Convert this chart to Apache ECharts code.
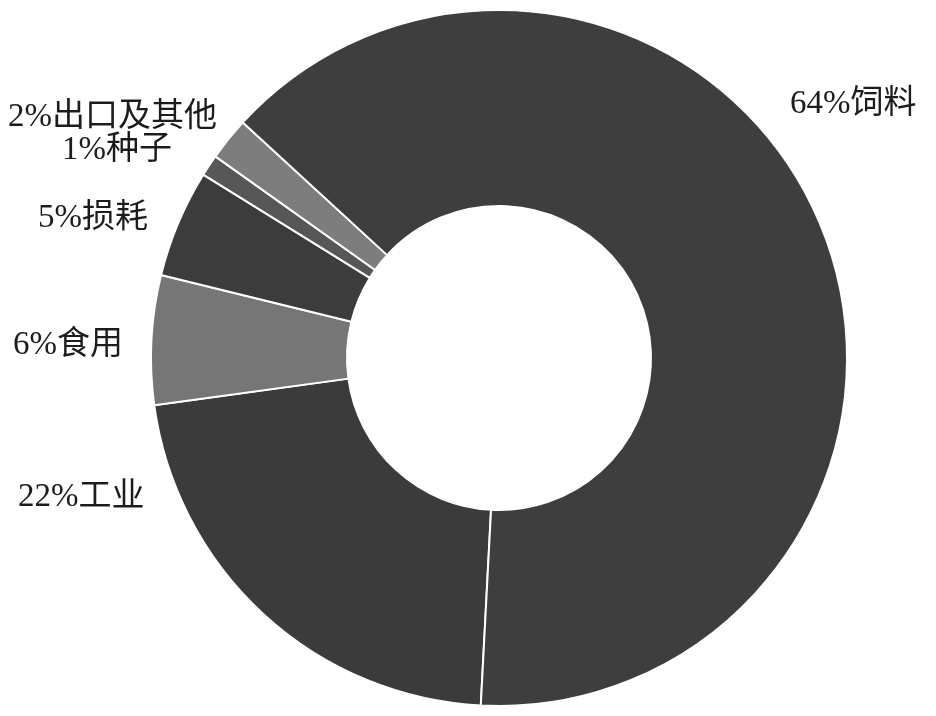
<!DOCTYPE html>
<html>
<head>
<meta charset="utf-8">
<script src="https://cdn.jsdelivr.net/npm/echarts@6/dist/echarts.min.js"></script>
<style>
  html, body { margin: 0; padding: 0; background: #fff; }
  #chart { width: 936px; height: 716px; }
</style>
</head>
<body>
<div id="chart"></div>
<script>
// 玉米消费结构
var names = ['工业', '食用', '损耗', '种子', '出口及其他', '饲料'];
var values = [22, 6, 5, 1, 2, 64];
var colors = ['#3b3b3b', '#767676', '#3c3c3c', '#575757', '#7d7d7d', '#3e3e3e'];

// where each label sits (left edge, vertical middle)
var labelPos = [[18, 497], [13, 345], [38, 218], [62, 150], [8, 117], [790, 104]];

var chart = echarts.init(document.getElementById('chart'));

var data = [];
for (var i = 0; i < names.length; i++) {
	data.push({
		name : names[i],
		value : values[i],
		itemStyle : { color : colors[i] }
	});
}

option = {
	animation : false,
	series : [{
		type : 'pie',
		center : [499, 358],
		radius : [152, 348],
		startAngle : 267,
		clockwise : true,
		avoidLabelOverlap : false,
		itemStyle : {
			borderColor : '#fff',
			borderWidth : 2
		},
		label : {
			show : true,
			position : 'outside',
			formatter : '{c}%{b}',
			color : '#1c1c1c',
			fontSize : 33,
			fontFamily : '"Liberation Serif", "Noto Sans CJK SC", serif'
		},
		labelLine : { show : false },
		labelLayout : function(params) {
			var p = labelPos[params.dataIndex];
			return {
				x : p[0],
				y : p[1],
				align : 'left',
				verticalAlign : 'middle'
			};
		},
		data : data
	}]
};

chart.setOption(option);
</script>
</body>
</html>
